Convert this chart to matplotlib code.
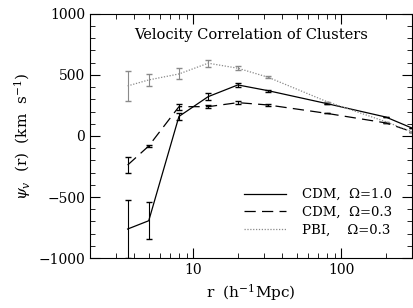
import numpy as np
import matplotlib
matplotlib.use("Agg")
import matplotlib.pyplot as plt
from matplotlib.lines import Line2D
from matplotlib.ticker import MultipleLocator, LogLocator, NullFormatter, FixedLocator, FixedFormatter

plt.rcParams['font.family'] = ['DejaVu Serif']
plt.rcParams['mathtext.fontset'] = 'dejavuserif'

r = [3.6, 5.0, 8.0, 12.6, 20.0, 32.0, 80.0, 200.0, 300.0]
cdm10 = [-762, -694, 160, 322, 418, 371, 265, 155, 65]
cdm10_err = [240, 150, 30, 30, 15, 8, 0, 0, 0]
cdm03 = [-238, -82, 240, 240, 273, 254, 185, 107, 35]
cdm03_err = [65, 10, 25, 12, 10, 5, 0, 0, 0]
pbi03 = [410, 459, 508, 596, 555, 481, 281, 117, 35]
pbi03_err = [125, 50, 45, 30, 15, 8, 0, 0, 0]

labels = ["CDM,  \u03a9=1.0", "CDM,  \u03a9=0.3", "PBI,    \u03a9=0.3"]

styles = [dict(color='black', ls='-'),
          dict(color='black', ls=(0, (9, 5))),
          dict(color='#8a8a8a', ls=(0, (1, 1.3)))]

fig = plt.figure(figsize=(4.14, 3.08), dpi=100)
ax = fig.add_axes([0.217, 0.162, 0.778, 0.793])

for y, e, st in zip([cdm10, cdm03, pbi03], [cdm10_err, cdm03_err, pbi03_err], styles):
    ax.errorbar(r, y, yerr=e, color=st['color'], lw=0.9, ls=st['ls'],
                capsize=2, elinewidth=0.8)

ax.set_xscale('log')
ax.set_xlim(2, 300)
ax.set_ylim(-1000, 1000)
ax.yaxis.set_major_locator(MultipleLocator(500))
ax.yaxis.set_minor_locator(MultipleLocator(100))
ax.xaxis.set_major_locator(FixedLocator([10, 100]))
ax.xaxis.set_major_formatter(FixedFormatter(['10', '100']))
ax.xaxis.set_minor_locator(LogLocator(base=10, subs=np.arange(2, 10)))
ax.xaxis.set_minor_formatter(NullFormatter())
ax.tick_params(which='both', direction='in', top=True, right=True, labelsize=10)
ax.tick_params(which='major', length=7, width=0.8)
ax.tick_params(which='minor', length=3.5, width=0.6)
for s in ax.spines.values():
    s.set_linewidth(0.8)

ax.text(0.5, 0.915, "Velocity Correlation of Clusters", transform=ax.transAxes,
        ha='center', va='center', fontsize=10.5)
ax.set_xlabel(r"r  (h$^{-1}$Mpc)", fontsize=11)
ax.set_ylabel(r"$\psi_v$  (r)  (km  s$^{-1}$)", fontsize=11)

handles = [Line2D([], [], color=st['color'], lw=0.9, ls=st['ls']) for st in styles]
ax.legend(handles, labels, loc='lower right', frameon=False, fontsize=9.5,
          handlelength=3.2, handletextpad=1.2, borderaxespad=0.5, labelspacing=0.35,
          bbox_to_anchor=(0.975, 0.04))
fig.savefig("out.png", dpi=100)
